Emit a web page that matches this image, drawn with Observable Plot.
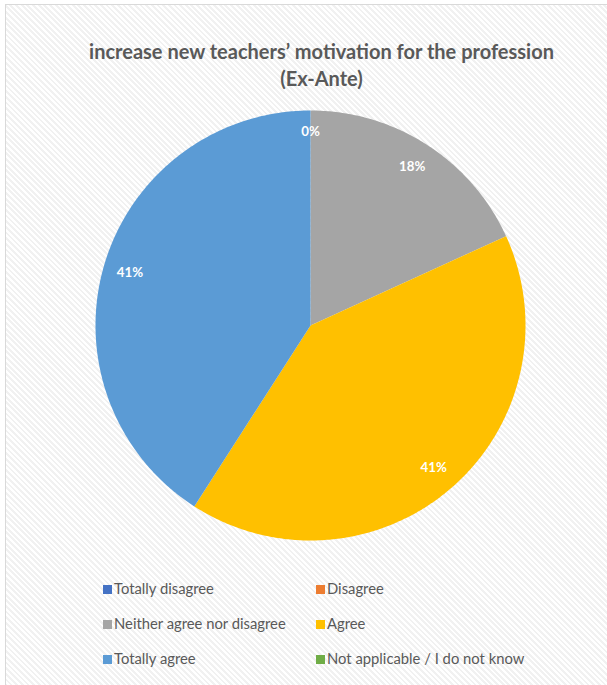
<!DOCTYPE html>
<html>
<head>
<meta charset="utf-8">
<script src="https://cdn.jsdelivr.net/npm/d3@7"></script>
<script src="https://cdn.jsdelivr.net/npm/@observablehq/plot@0.6"></script>
<style>
  html, body { margin: 0; padding: 0; background: #fff; }
  #frame {
    position: relative; width: 607px; height: 685px; overflow: hidden;
    font-family: Lato, "Open Sans", sans-serif;
  }
  #bg {
    position: absolute; left: 5px; top: 4px; width: 610px; height: 690px;
    border-left: 1.5px solid #d9d9d9; border-top: 1.5px solid #d9d9d9;
    background: repeating-linear-gradient(45deg, #ffffff 0px, #ffffff 2px, #f1f1f1 2px, #f1f1f1 4px);
  }
  #title {
    position: absolute; left: 0; top: 38px; width: 643px; text-align: center;
    font-weight: bold; font-size: 20px; line-height: 27px; color: #595959;
  }
  #chart { position: absolute; left: 0; top: 100px; }
  .leg { position: absolute; font-size: 14.8px; color: #595959; white-space: nowrap; line-height: 16px; }
  .leg i { display: inline-block; width: 9px; height: 9px; margin-right: 2px; vertical-align: 0px; }
</style>
</head>
<body>
<div id="frame">
  <div id="bg"></div>
  <div id="title">increase new teachers’ motivation for the profession<br>(Ex-Ante)</div>
  <div id="chart"></div>
  <div id="legend"></div>
</div>
<script>
const categories = ["Totally disagree", "Disagree", "Neither agree nor disagree", "Agree", "Totally agree", "Not applicable / I do not know"];
const values = [0, 0, 18.18, 40.91, 40.91, 0];
const labels = ["0%", "0%", "18%", "41%", "41%", "0%"];
const colors = ["#4472C4", "#ED7D31", "#A5A5A5", "#FFC000", "#5B9BD5", "#70AD47"];

const total = d3.sum(values);
const slices = [];
let acc = 0;
categories.forEach((c, i) => {
  const a0 = acc / total * 2 * Math.PI;
  acc += values[i];
  const a1 = acc / total * 2 * Math.PI;
  slices.push({cat: c, value: values[i], label: labels[i], a0, a1, color: colors[i]});
});

// polygon points for each slice (angle measured clockwise from 12 o'clock)
const pts = [];
slices.filter(s => s.value > 0).forEach(s => {
  pts.push({cat: s.cat, x: 0, y: 0});
  const n = Math.max(2, Math.ceil((s.a1 - s.a0) / 0.01));
  for (let k = 0; k <= n; k++) {
    const a = s.a0 + (s.a1 - s.a0) * k / n;
    pts.push({cat: s.cat, x: Math.sin(a), y: Math.cos(a)});
  }
  pts.push({cat: s.cat, x: 0, y: 0});
});

// label positions (one label for the coincident zero slices)
const seen = new Set();
const labelPts = [];
slices.forEach(s => {
  const m = (s.a0 + s.a1) / 2;
  const key = s.value === 0 ? "zero" : s.cat;
  if (seen.has(key)) return;
  seen.add(key);
  const r = s.value === 0 ? 0.9 : 0.875;
  labelPts.push({label: s.label, x: r * Math.sin(m), y: r * Math.cos(m)});
});

const marks = [];
slices.filter(s => s.value > 0).forEach(s => {
  marks.push(Plot.line(pts.filter(p => p.cat === s.cat), {x: "x", y: "y", fill: s.color, stroke: "none", curve: "linear"}));
});
marks.push(Plot.text(labelPts, {x: "x", y: "y", text: "label", fill: "white", fontWeight: "bold", fontSize: 13.3, fontFamily: "Lato, 'Open Sans', sans-serif"}));

const plot = Plot.plot({
  width: 607,
  height: 460,
  marginLeft: 95,
  marginRight: 82,
  marginTop: 10,
  marginBottom: 20,
  x: {domain: [-1, 1], axis: null},
  y: {domain: [-1, 1], axis: null},
  style: {background: "transparent", overflow: "visible"},
  marks
});
document.getElementById("chart").appendChild(plot);

// legend
const legend = document.getElementById("legend");
const colX = [103, 316];
const rowY = [580, 615, 650];
categories.forEach((c, i) => {
  const d = document.createElement("div");
  d.className = "leg";
  d.style.left = colX[i % 2] + "px";
  d.style.top = rowY[Math.floor(i / 2)] + "px";
  const sw = document.createElement("i");
  sw.style.background = colors[i];
  d.appendChild(sw);
  d.appendChild(document.createTextNode(c));
  legend.appendChild(d);
});
</script>
</body>
</html>
